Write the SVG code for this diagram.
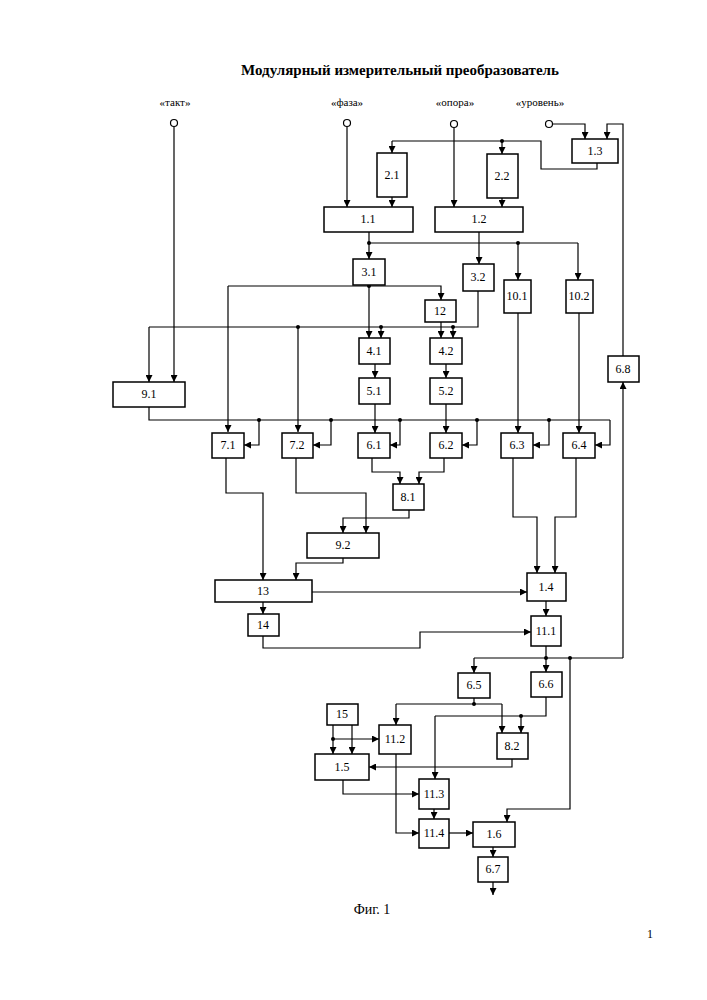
<svg xmlns="http://www.w3.org/2000/svg" width="707" height="1000" viewBox="0 0 707 1000">
<style>
.b{fill:#fff;stroke:#000;stroke-width:1.5}
.t{font-family:"Liberation Serif",serif;font-size:12px;text-anchor:middle;dominant-baseline:central}
.c path{fill:none;stroke:#000;stroke-width:1.2}
.a{marker-end:url(#ar)}
.d{fill:#000}
.i{fill:#fff;stroke:#000;stroke-width:1.2}
</style>
<defs><marker id="ar" viewBox="0 0 10 10" refX="10" refY="5" markerWidth="7" markerHeight="7" markerUnits="userSpaceOnUse" orient="auto"><path d="M0,0L10,5L0,10z"/></marker></defs>
<rect width="707" height="1000" fill="#fff"/>
<text x="400" y="75" font-family="Liberation Serif,serif" font-size="15" font-weight="bold" text-anchor="middle">Модулярный измерительный преобразователь</text>
<g id="inputs" font-family="Liberation Serif,serif" font-size="11" text-anchor="middle">
<text x="175" y="106">«такт»</text><text x="347" y="106">«фаза»</text><text x="455" y="106">«опора»</text><text x="540" y="106">«уровень»</text>
<circle class="i" cx="174" cy="123" r="3.5"/><circle class="i" cx="347" cy="123" r="3.5"/><circle class="i" cx="454" cy="124" r="3.5"/><circle class="i" cx="549" cy="124" r="3.5"/>
</g>
<g id="connectors" class="c">
<path class="a" d="M174,127V382"/>
<path class="a" d="M347,127V207"/>
<path class="a" d="M454,128V207"/>
<path class="a" d="M553,124H585V139"/>
<path class="a" d="M623,356V124H607V139"/>
<path d="M597,163V169H541V141H392"/>
<path class="a" d="M392,141V153"/>
<path class="a" d="M502,141V154"/>
<path class="a" d="M392,197V207"/>
<path class="a" d="M502,198V207"/>
<path d="M369,232V243H578"/>
<path class="a" d="M369,243V259"/>
<path class="a" d="M518,243V280"/>
<path class="a" d="M578,243V280"/>
<path class="a" d="M479,232V264"/>
<path d="M369,285V286H228"/>
<path class="a" d="M228,286V432"/>
<path class="a" d="M369,286H441V300"/>
<path class="a" d="M369,286V338"/>
<path d="M478,291V327H149"/>
<path class="a" d="M149,327V382"/>
<path class="a" d="M298,327V432"/>
<path class="a" d="M381,327V338"/>
<path class="a" d="M453,327V338"/>
<path class="a" d="M441,322V338"/>
<path class="a" d="M375,364V378"/>
<path class="a" d="M446,364V378"/>
<path class="a" d="M375,404V433"/>
<path class="a" d="M446,404V433"/>
<path class="a" d="M518,313V433"/>
<path class="a" d="M579,313V433"/>
<path d="M149,407V420H610"/>
<path class="a" d="M259,420V445H244"/>
<path class="a" d="M331,420V445H313"/>
<path class="a" d="M400,420V445H390"/>
<path class="a" d="M477,420V445H462"/>
<path class="a" d="M549,420V445H533"/>
<path class="a" d="M610,420V445H595"/>
<path class="a" d="M226,458V493H263V580"/>
<path class="a" d="M296,458V493H366V533"/>
<path class="a" d="M372,458V472H400V484"/>
<path class="a" d="M444,458V472H419V484"/>
<path class="a" d="M409,510V518H343V533"/>
<path class="a" d="M343,558V563H296V580"/>
<path class="a" d="M312,592H527"/>
<path class="a" d="M513,458V517H537V573"/>
<path class="a" d="M576,458V517H555V573"/>
<path class="a" d="M546,601V616"/>
<path class="a" d="M263,602V614"/>
<path class="a" d="M263,636V648H420V632H531"/>
<path d="M546,646V658M474,658H623"/>
<path class="a" d="M623,658V382"/>
<path class="a" d="M474,658V673"/>
<path class="a" d="M546,658V672"/>
<path class="a" d="M570,658V809H507V822"/>
<path d="M474,698V704H502M474,704H396"/>
<path class="a" d="M396,704V725"/>
<path class="a" d="M502,704V733"/>
<path d="M546,697V716H435"/>
<path class="a" d="M435,716V779"/>
<path class="a" d="M521,716V733"/>
<path class="a" d="M512,759V767H369"/>
<path class="a" d="M333,725V754"/>
<path class="a" d="M352,725V754"/>
<path class="a" d="M333,739H379"/>
<path class="a" d="M343,780V794H419"/>
<path class="a" d="M434,809V819"/>
<path class="a" d="M396,754V833H419"/>
<path class="a" d="M449,833H473"/>
<path class="a" d="M493,847V857"/>
<path class="a" d="M493,882V895"/>
</g>
<g id="dots" class="d">
<circle cx="502" cy="141" r="2"/><circle cx="369" cy="243" r="2"/><circle cx="518" cy="243" r="2"/>
<circle cx="369" cy="286" r="2"/><circle cx="298" cy="327" r="2"/><circle cx="381" cy="327" r="2"/><circle cx="453" cy="327" r="2"/>
<circle cx="259" cy="420" r="2"/><circle cx="331" cy="420" r="2"/><circle cx="400" cy="420" r="2"/><circle cx="477" cy="420" r="2"/><circle cx="549" cy="420" r="2"/>
<circle cx="546" cy="658" r="2"/><circle cx="570" cy="658" r="2"/><circle cx="474" cy="704" r="2"/><circle cx="521" cy="716" r="2"/><circle cx="333" cy="739" r="2"/>
</g>
<g id="n1_3"><rect class="b" x="572" y="139" width="46" height="24"/><text class="t" x="595" y="151">1.3</text></g>
<g id="n2_1"><rect class="b" x="377" y="153" width="30" height="44"/><text class="t" x="392" y="175">2.1</text></g>
<g id="n2_2"><rect class="b" x="487" y="154" width="31" height="44"/><text class="t" x="502" y="176">2.2</text></g>
<g id="n1_1"><rect class="b" x="324" y="207" width="89" height="25"/><text class="t" x="368" y="219">1.1</text></g>
<g id="n1_2"><rect class="b" x="435" y="207" width="88" height="25"/><text class="t" x="479" y="219">1.2</text></g>
<g id="n3_1"><rect class="b" x="353" y="259" width="32" height="26"/><text class="t" x="369" y="272">3.1</text></g>
<g id="n3_2"><rect class="b" x="463" y="264" width="31" height="27"/><text class="t" x="478" y="277">3.2</text></g>
<g id="n10_1"><rect class="b" x="504" y="280" width="27" height="33"/><text class="t" x="517" y="296">10.1</text></g>
<g id="n10_2"><rect class="b" x="566" y="280" width="27" height="33"/><text class="t" x="579" y="296">10.2</text></g>
<g id="n12"><rect class="b" x="425" y="300" width="31" height="22"/><text class="t" x="440" y="311">12</text></g>
<g id="n4_1"><rect class="b" x="359" y="338" width="31" height="26"/><text class="t" x="374" y="351">4.1</text></g>
<g id="n4_2"><rect class="b" x="430" y="338" width="32" height="26"/><text class="t" x="446" y="351">4.2</text></g>
<g id="n5_1"><rect class="b" x="359" y="378" width="31" height="26"/><text class="t" x="374" y="391">5.1</text></g>
<g id="n5_2"><rect class="b" x="430" y="378" width="32" height="26"/><text class="t" x="446" y="391">5.2</text></g>
<g id="n9_1"><rect class="b" x="113" y="382" width="72" height="25"/><text class="t" x="149" y="394">9.1</text></g>
<g id="n6_8"><rect class="b" x="608" y="356" width="31" height="26"/><text class="t" x="623" y="369">6.8</text></g>
<g id="n7_1"><rect class="b" x="212" y="433" width="32" height="25"/><text class="t" x="228" y="445">7.1</text></g>
<g id="n7_2"><rect class="b" x="282" y="433" width="31" height="25"/><text class="t" x="297" y="445">7.2</text></g>
<g id="n6_1"><rect class="b" x="358" y="433" width="32" height="25"/><text class="t" x="374" y="445">6.1</text></g>
<g id="n6_2"><rect class="b" x="430" y="433" width="32" height="25"/><text class="t" x="446" y="445">6.2</text></g>
<g id="n6_3"><rect class="b" x="501" y="433" width="32" height="25"/><text class="t" x="517" y="445">6.3</text></g>
<g id="n6_4"><rect class="b" x="563" y="433" width="32" height="25"/><text class="t" x="579" y="445">6.4</text></g>
<g id="n8_1"><rect class="b" x="393" y="484" width="31" height="26"/><text class="t" x="408" y="497">8.1</text></g>
<g id="n9_2"><rect class="b" x="307" y="533" width="72" height="25"/><text class="t" x="343" y="545">9.2</text></g>
<g id="n13"><rect class="b" x="215" y="580" width="97" height="22"/><text class="t" x="263" y="591">13</text></g>
<g id="n1_4"><rect class="b" x="527" y="573" width="39" height="28"/><text class="t" x="546" y="587">1.4</text></g>
<g id="n14"><rect class="b" x="248" y="614" width="31" height="22"/><text class="t" x="263" y="625">14</text></g>
<g id="n11_1"><rect class="b" x="531" y="616" width="30" height="30"/><text class="t" x="546" y="631">11.1</text></g>
<g id="n6_5"><rect class="b" x="458" y="673" width="32" height="25"/><text class="t" x="474" y="685">6.5</text></g>
<g id="n6_6"><rect class="b" x="531" y="672" width="31" height="25"/><text class="t" x="546" y="684">6.6</text></g>
<g id="n15"><rect class="b" x="327" y="704" width="31" height="21"/><text class="t" x="342" y="714">15</text></g>
<g id="n11_2"><rect class="b" x="379" y="725" width="32" height="29"/><text class="t" x="395" y="739">11.2</text></g>
<g id="n8_2"><rect class="b" x="497" y="733" width="31" height="26"/><text class="t" x="512" y="746">8.2</text></g>
<g id="n1_5"><rect class="b" x="315" y="754" width="54" height="26"/><text class="t" x="342" y="767">1.5</text></g>
<g id="n11_3"><rect class="b" x="419" y="779" width="30" height="30"/><text class="t" x="434" y="794">11.3</text></g>
<g id="n11_4"><rect class="b" x="419" y="819" width="30" height="29"/><text class="t" x="434" y="833">11.4</text></g>
<g id="n1_6"><rect class="b" x="473" y="822" width="42" height="25"/><text class="t" x="494" y="834">1.6</text></g>
<g id="n6_7"><rect class="b" x="478" y="857" width="30" height="25"/><text class="t" x="493" y="869">6.7</text></g>
<text x="372" y="914" font-family="Liberation Serif,serif" font-size="14" text-anchor="middle">Фиг. 1</text>
<text x="650" y="938" font-family="Liberation Serif,serif" font-size="12" text-anchor="middle">1</text>
</svg>
